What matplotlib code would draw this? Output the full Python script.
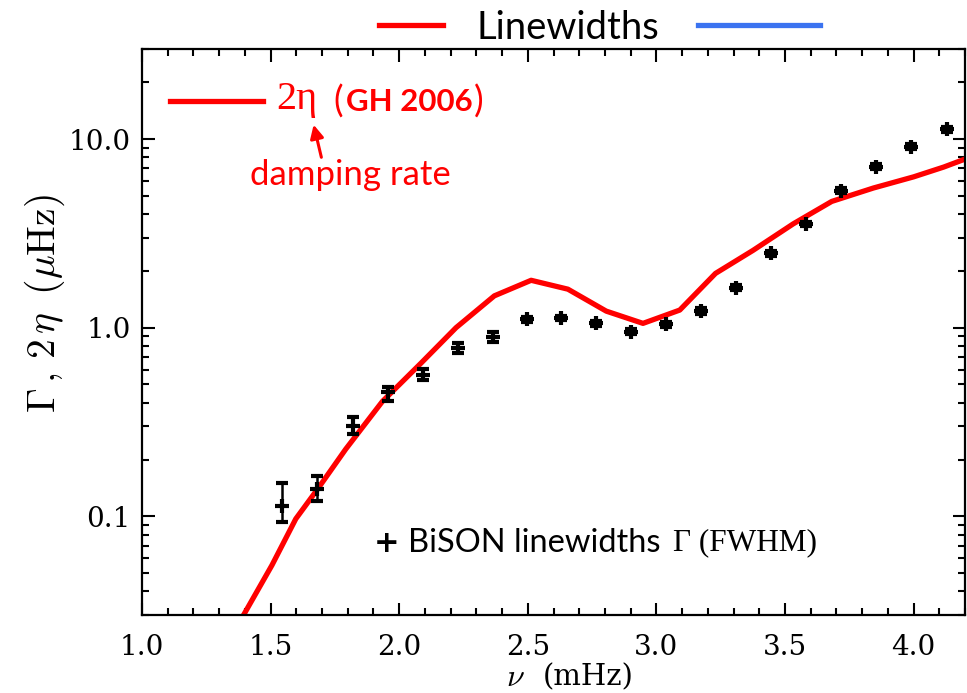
import numpy as np
import matplotlib.pyplot as plt
from matplotlib.lines import Line2D

# BiSON linewidths (mHz, uHz) with asymmetric error bars
nu_bison = [1.544, 1.679, 1.821, 1.955, 2.093, 2.227, 2.363, 2.496, 2.630, 2.766,
            2.902, 3.039, 3.173, 3.309, 3.445, 3.582, 3.718, 3.854, 3.990, 4.130]
gamma_bison = [0.114, 0.139, 0.301, 0.454, 0.563, 0.782, 0.897, 1.107, 1.129, 1.054,
               0.953, 1.040, 1.224, 1.625, 2.48, 3.55, 5.32, 7.14, 9.11, 11.25]
err_lo = [0.021, 0.018, 0.029, 0.047, 0.037, 0.049, 0.053, 0.03, 0.03, 0.03,
          0.03, 0.03, 0.04, 0.05, 0.07, 0.10, 0.15, 0.20, 0.25, 0.30]
err_hi = [0.036, 0.024, 0.037, 0.031, 0.041, 0.046, 0.055, 0.03, 0.03, 0.03,
          0.03, 0.03, 0.04, 0.05, 0.07, 0.10, 0.15, 0.20, 0.25, 0.30]

# damping rate 2*eta (GH 2006)
nu_gh = [1.36, 1.395, 1.505, 1.598, 1.682, 1.792, 1.935, 2.085, 2.221, 2.370,
         2.513, 2.656, 2.805, 2.948, 3.091, 3.230, 3.376, 3.532, 3.682, 3.844,
         4.000, 4.117, 4.208]
eta2_gh = [0.026, 0.030, 0.055, 0.097, 0.139, 0.227, 0.407, 0.649, 1.00, 1.475,
           1.783, 1.60, 1.224, 1.054, 1.24, 1.94, 2.57, 3.55, 4.67, 5.5,
           6.3, 7.1, 7.9]

xtick_vals = [1.0, 1.5, 2.0, 2.5, 3.0, 3.5, 4.0]
xtick_labels = ['1.0', '1.5', '2.0', '2.5', '3.0', '3.5', '4.0']
ytick_vals = [0.1, 1.0, 10.0]
ytick_labels = ['0.1', '1.0', '10.0']

W, H = 967, 693
red = '#ff0000'
fig = plt.figure(figsize=(W / 100, H / 100), dpi=100)
ax = fig.add_axes([142 / W, 1 - 615 / H, (965 - 142) / W, (615 - 49) / H])

ax.plot(nu_gh, eta2_gh, color=red, lw=3.8, zorder=2)
ax.errorbar(nu_bison, gamma_bison, yerr=[err_lo, err_hi], fmt='+', color='black',
            ms=10, mew=3, elinewidth=1.8, capsize=4, capthick=1.8, zorder=3)

ax.set_yscale('log')
ax.set_xlim(1.0, 4.2)
ax.set_ylim(0.03, 30)

ax.set_xticks(xtick_vals)
ax.set_xticks(np.arange(1.0, 4.21, 0.1), minor=True)
ax.set_xticklabels(xtick_labels)
ax.set_yticks(ytick_vals)
ax.set_yticklabels(ytick_labels)

tick_font = 'DejaVu Serif'
for lab in ax.get_xticklabels() + ax.get_yticklabels():
    lab.set_fontfamily(tick_font)
    lab.set_fontsize(20)

ax.tick_params(which='both', direction='in', top=True, right=True, width=1.5)
ax.tick_params(which='major', length=9)
ax.tick_params(axis='x', which='major', pad=14)
ax.tick_params(axis='y', which='major', pad=8)
ax.tick_params(which='minor', length=5)
for s in ax.spines.values():
    s.set_linewidth(1.6)

ax.set_ylabel(r'$\Gamma\,,\,2\,\eta\;\;(\mu\mathrm{Hz})$', fontsize=28.5,
              math_fontfamily='cm')
ax.yaxis.set_label_coords(-0.091, 0.551)
fig.text(506 / W, 1 - 677 / H, r'$\nu$', fontsize=23, math_fontfamily='cm',
         ha='left', va='center')
fig.text(543 / W, 1 - 677 / H, '(mHz)', fontsize=21, fontfamily=tick_font,
         ha='left', va='center')

# top legend strip
fig.add_artist(Line2D([379 / W, 443 / W], [1 - 25 / H, 1 - 25 / H], color=red, lw=3.8))
fig.add_artist(Line2D([698 / W, 820 / W], [1 - 25 / H, 1 - 25 / H], color='#3b73f0', lw=3.8))
fig.text(477 / W, 1 - 28 / H, 'Linewidths', fontsize=27.5, fontfamily='Lato',
         ha='left', va='center', color='black')

# 2 eta label inside the axes
fig.add_artist(Line2D([170 / W, 263 / W], [1 - 101 / H, 1 - 101 / H], color=red, lw=3.8))
fig.text(276 / W, 1 - 100 / H, '2η', fontsize=29, fontfamily='Liberation Serif',
         color=red, ha='left', va='center')
fig.text(333 / W, 1 - 102 / H, '(', fontsize=26, fontfamily='Lato', color=red,
         ha='left', va='center')
fig.text(346 / W, 1 - 102 / H, 'GH 2006', fontsize=22.5, fontfamily='Lato', fontweight='bold',
         color=red, ha='left', va='center')
fig.text(474 / W, 1 - 102 / H, ')', fontsize=26, fontfamily='Lato', color=red,
         ha='left', va='center')
fig.text(350 / W, 1 - 175 / H, 'damping rate', fontsize=25, fontfamily='Lato',
         color=red, ha='center', va='center')
ax.annotate('', xy=(313, H - 122), xytext=(322, H - 160),
            xycoords='figure pixels', textcoords='figure pixels',
            arrowprops=dict(arrowstyle='-|>', color=red, lw=2.2, mutation_scale=20))

# BiSON label
fig.text(374 / W, 1 - 543 / H, '+', fontsize=22, fontfamily='DejaVu Sans', fontweight='bold',
         color='black', ha='left', va='center')
fig.text(408 / W, 1 - 543 / H, 'BiSON linewidths', fontsize=23.5, fontfamily='Lato',
         color='black', ha='left', va='center')
fig.text(673 / W, 1 - 543 / H, 'Γ (FWHM)', fontsize=22.5, fontfamily='Liberation Serif',
         color='black', ha='left', va='center')

fig.savefig('out.png', dpi=100)
